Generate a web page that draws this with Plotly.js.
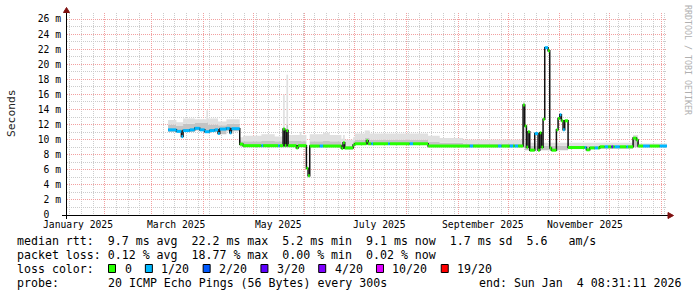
<!DOCTYPE html>
<html><head><meta charset="utf-8">
<script src="https://cdn.plot.ly/plotly-3.0.1.min.js"></script>
<style>html,body{margin:0;padding:0;background:#fff}#chart{width:697px;height:297px}</style>
</head><body><div id="chart"></div>
<script>
// ---------- data ----------
const rangeStart = '2025-01-09 08:31:11';
const rangeEnd   = '2026-01-04 08:31:11';

const monthStarts = ['2025-02-01','2025-03-01','2025-04-01','2025-05-01','2025-06-01','2025-07-01',
  '2025-08-01','2025-09-01','2025-10-01','2025-11-01','2025-12-01','2026-01-01'];
const monthLabelDates = ['2025-01-16','2025-03-16','2025-05-16','2025-07-16','2025-09-16','2025-11-16'];
const monthLabels = ['January 2025','March 2025','May 2025','July 2025','September 2025','November 2025'];
const yTicks = [0,2,4,6,8,10,12,14,16,18,20,22,24,26];

// median RTT (ms) as steps: segment i runs from medDates[i] to medDates[i+1]
const medDates = ['2025-03-11','2025-03-16','2025-03-19','2025-03-20','2025-03-24','2025-03-27','2025-03-30','2025-04-02','2025-04-05','2025-04-08','2025-04-10','2025-04-11','2025-04-15','2025-04-17','2025-04-18',
 '2025-04-23','2025-04-25','2025-05-06','2025-05-07','2025-05-16','2025-05-17','2025-05-19','2025-05-20','2025-05-21','2025-05-22','2025-05-27','2025-05-28','2025-06-02','2025-06-03','2025-06-04',
 '2025-06-10','2025-06-12','2025-06-23','2025-06-24','2025-06-25','2025-06-30','2025-07-01','2025-07-08','2025-07-09','2025-07-11','2025-07-12','2025-07-21','2025-07-22','2025-08-03','2025-08-05',
 '2025-08-14','2025-09-08','2025-09-10','2025-09-25','2025-09-27','2025-10-02','2025-10-04','2025-10-05','2025-10-07','2025-10-10','2025-10-11','2025-10-12','2025-10-13','2025-10-14','2025-10-17',
 '2025-10-19','2025-10-20','2025-10-21','2025-10-22','2025-10-23','2025-10-25','2025-10-26','2025-10-27','2025-10-30','2025-10-31','2025-11-01','2025-11-02','2025-11-03','2025-11-04','2025-11-06',
 '2025-11-16','2025-11-17','2025-11-19','2025-11-22','2025-11-24','2025-11-25','2025-11-28','2025-11-30','2025-12-02','2025-12-03','2025-12-04','2025-12-07','2025-12-11','2025-12-12','2025-12-15',
 '2025-12-17','2025-12-18','2025-12-21','2025-12-25','2025-12-31','2026-01-04 08:00'];
const medValues = [11.3,11.1,10.4,11.2,11.3,11.5,11.3,11.05,11.2,11.3,10.8,11.4,11.5,10.9,11.45,
 9.4,9.2,9.2,9.2,9.2,9.2,11.4,9.2,11.2,9.2,8.9,9.2,6.2,5.2,9.15,
 9.15,9.15,8.85,9.6,8.9,9.3,9.45,9.85,9.45,9.45,9.45,9.45,9.45,9.45,9.45,
 9.15,9.15,9.15,9.15,9.15,9.15,9.15,9.15,9.15,14.6,11.8,9.0,11.05,8.6,10.8,
 8.6,10.9,9.0,12.7,22.2,21.8,8.9,8.6,11.3,12.8,13.3,12.5,11.3,12.5,8.95,
 8.95,8.65,8.9,8.9,8.9,9.05,9.05,9.05,9.05,9.05,9.05,9.05,9.05,9.05,10.2,
 9.95,9.15,9.15,9.15,9.15];
// lost pings out of 20 for each segment
const medLoss = [1,1,1,1,1,1,1,1,1,1,1,1,1,1,1,
 0,0,1,0,1,0,0,0,0,0,0,0,0,0,0,
 1,0,0,0,0,0,0,0,0,1,0,1,0,1,0,
 0,1,0,1,0,1,0,1,0,0,0,0,0,0,1,
 0,0,0,0,1,0,0,0,0,0,1,0,1,0,0,
 1,0,0,1,0,0,1,0,3,0,1,0,1,0,0,
 0,0,1,0,1];

// smoke (spread of the 20 pings), steps
const smokeDates = ['2025-03-11','2025-03-16','2025-03-20','2025-03-27','2025-04-03','2025-04-04','2025-04-10','2025-04-15',
 '2025-04-23','2025-04-25','2025-05-06','2025-05-14','2025-05-19','2025-05-20','2025-05-21','2025-05-22','2025-05-29','2025-05-30',
 '2025-06-02','2025-06-03','2025-06-04','2025-06-12','2025-06-16','2025-06-23','2025-06-24','2025-06-25',
 '2025-06-30','2025-07-01','2025-07-07','2025-07-10','2025-08-14','2025-08-21','2025-09-04','2025-10-10',
 '2025-10-11','2025-11-06','2025-12-15','2025-12-18','2026-01-04 08:00'];
const smokeLo  = [11.0,10.9,11.0,11.2,11.0,11.0,10.7,11.1, 9.1,9.0,9.0,9.0,9.0,9.0,9.0,9.0,9.0,9.0, 6.2,5.2,9.0,9.0,9.0,8.7,8.8,8.7, 9.2,9.3,9.3,9.3,9.0,9.0,9.0,9.0, 8.6,8.8,9.0,9.0];
const smokeMid = [12.0,11.8,12.1,12.2,12.3,12.0,11.9,12.1, 9.8,9.8,9.9,9.8,11.6,9.8,12.0,9.9,9.9,9.8, 6.2,5.2,9.8,9.9,9.8,9.5,9.8,9.2, 9.8,10.0,10.2,10.0,9.7,9.6,9.5,12.0, 9.2,9.2,10.3,9.3];
const smokeHi  = [12.6,12.3,12.8,12.7,13.9,12.8,12.4,12.7, 10.3,10.5,10.7,10.4,16.0,10.5,18.6,10.6,11.0,10.6, 6.2,5.2,10.7,10.9,10.6,10.1,10.6,10.0, 10.3,10.8,11.2,10.8,10.5,10.2,10.0,15.1, 9.6,9.6,10.6,9.5];

const lossLevels = [0,1,2,3,4,10,19];
const lossLabels = ['0','1/20','2/20','3/20','4/20','10/20','19/20'];
const lossColors = ['#26ff00','#00b8ff','#0059ff','#5e00ff','#7e00ff','#dd00ff','#ff0000'];

const statLine1 = 'median rtt:  9.7 ms avg  22.2 ms max  5.2 ms min  9.1 ms now  1.7 ms sd  5.6   am/s';
const statLine2 = 'packet loss: 0.12 % avg  18.77 % max  0.00 % min  0.02 % now';
const probeText = '20 ICMP Echo Pings (56 Bytes) every 300s';
const endText = 'end: Sun Jan  4 08:31:11 2026';

// ---------- layout helpers ----------
const L = 67, T = 13, W = 600, H = 202;
const px = X => (X - L) / W;
const py = Y => (T + H - Y) / H;
const sp = s => s.replace(/ /g, '\u00a0');
const MONO = 'DejaVu Sans Mono';

// ---------- traces ----------
const last = a => a[a.length - 1];
const stepY = a => a.concat([last(a)]);
const traces = [];
traces.push({x: smokeDates, y: stepY(smokeLo), mode: 'lines', line: {width: 0, shape: 'hv'}, hoverinfo: 'skip', showlegend: false});
traces.push({x: smokeDates, y: stepY(smokeMid), mode: 'lines', line: {width: 0, shape: 'hv'}, fill: 'tonexty', fillcolor: '#c4c4c4', hoverinfo: 'skip', showlegend: false});
traces.push({x: smokeDates, y: stepY(smokeHi), mode: 'lines', line: {width: 0, shape: 'hv'}, fill: 'tonexty', fillcolor: '#e0e0e0', hoverinfo: 'skip', showlegend: false});
// black median steps
traces.push({x: medDates, y: stepY(medValues), mode: 'lines', line: {color: '#111', width: 1.5, shape: 'hv'}, hoverinfo: 'skip', showlegend: false});
// loss-coloured median segments
lossLevels.forEach((lv, k) => {
  const xs = [], ys = [];
  medValues.forEach((v, i) => {
    if (medLoss[i] === lv) { xs.push(medDates[i], medDates[i + 1], null); ys.push(v, v, null); }
  });
  if (xs.length) traces.push({x: xs, y: ys, mode: 'lines', line: {color: lossColors[k], width: 3}, connectgaps: false, hoverinfo: 'skip', showlegend: false});
});

// ---------- annotations & shapes ----------
const ann = [];
const txt = (X, Y, s, opt = {}) => ann.push(Object.assign({xref: 'paper', yref: 'paper', x: px(X), y: py(Y), text: sp(s),
  showarrow: false, xanchor: 'left', yanchor: 'middle', borderpad: 0, font: {family: MONO, size: 11.6, color: '#000'}}, opt));

monthLabelDates.forEach((d, i) => ann.push({xref: 'x', yref: 'paper', x: d, y: py(224.5), text: sp(monthLabels[i]), showarrow: false,
  xanchor: 'center', yanchor: 'middle', borderpad: 0, font: {family: MONO, size: 9.7, color: '#000'}}));

txt(16, 241, statLine1);
txt(16, 255, statLine2);
txt(16, 269, 'loss color:');
txt(16, 283, 'probe:');
txt(107.3, 283, probeText);
txt(478.3, 283, endText);
txt(11, 113, 'Seconds', {xanchor: 'center', textangle: -90, font: {family: MONO, size: 11.3, color: '#222'}});
txt(688, 60, 'RRDTOOL / TOBI OETIKER', {xanchor: 'center', textangle: 90, font: {family: MONO, size: 8.3, color: '#b0b0b0'}});

const shapes = [];
let bx = 108.5;
lossLabels.forEach((lab, i) => {
  shapes.push({type: 'rect', xref: 'paper', yref: 'paper', x0: px(bx), x1: px(bx + 7), y0: py(272.5), y1: py(264.5),
    fillcolor: lossColors[i], line: {color: '#000', width: 1}});
  txt(bx + 15, 269, lab);
  bx = bx + 15 + lab.length * 6.97 + 14.9;
});
// axis lines with arrows
shapes.push({type: 'line', xref: 'paper', yref: 'paper', x0: px(62), x1: px(669), y0: py(215.5), y1: py(215.5), line: {color: '#000', width: 1}});
shapes.push({type: 'line', xref: 'paper', yref: 'paper', x0: px(66.5), x1: px(66.5), y0: py(219), y1: py(11), line: {color: '#000', width: 1}});
shapes.push({type: 'path', xref: 'paper', yref: 'paper', fillcolor: '#7f1010', line: {color: '#7f1010', width: 1},
  path: `M${px(668)},${py(212.5)} L${px(673.5)},${py(215.5)} L${px(668)},${py(218.5)} Z`});
shapes.push({type: 'path', xref: 'paper', yref: 'paper', fillcolor: '#7f1010', line: {color: '#7f1010', width: 1},
  path: `M${px(63.5)},${py(12.5)} L${px(66.5)},${py(7.5)} L${px(69.5)},${py(12.5)} Z`});

const layout = {
  width: 697, height: 297,
  margin: {l: L, r: 697 - L - W, t: T, b: 297 - T - H, pad: 0},
  paper_bgcolor: '#fff', plot_bgcolor: '#fff',
  font: {family: MONO, color: '#000'},
  showlegend: false,
  xaxis: {type: 'date', range: [rangeStart, rangeEnd], tickmode: 'array', tickvals: monthStarts, showticklabels: false, ticks: '',
    showgrid: true, gridcolor: '#f2a0a0', griddash: '1px,1px', gridwidth: 1, zeroline: false, showline: false, fixedrange: true,
    minor: {tickmode: 'linear', tick0: '2025-01-04', dtick: 604800000, showgrid: true, gridcolor: '#cccccc', griddash: '1px,1px', gridwidth: 1, ticks: ''}},
  yaxis: {range: [0, 26.8], tickmode: 'array', tickvals: yTicks, ticktext: yTicks.map(v => v === 0 ? '0\u00a0\u00a0' : v + '\u00a0m'),
    ticks: '', ticklabelstandoff: 5, tickfont: {family: MONO, size: 9.7, color: '#000'},
    showgrid: true, gridcolor: '#f2a0a0', griddash: '1px,1px', gridwidth: 1, zeroline: false, showline: false, fixedrange: true,
    minor: {tickmode: 'linear', tick0: 0, dtick: 1, showgrid: true, gridcolor: '#cccccc', griddash: '1px,1px', gridwidth: 1, ticks: ''}},
  annotations: ann,
  shapes: shapes
};

Plotly.newPlot('chart', traces, layout, {staticPlot: true, displayModeBar: false});
</script>
</body></html>
